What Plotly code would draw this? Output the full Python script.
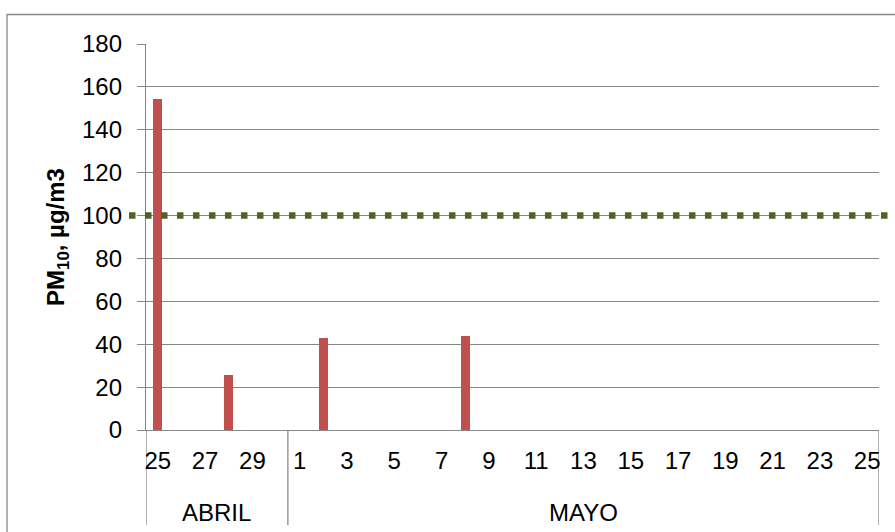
import plotly.graph_objects as go

# Daily PM10 concentrations, 25 April - 25 May
MESES = ["ABRIL"] * 6 + ["MAYO"] * 25
DIAS = [25, 26, 27, 28, 29, 30,
        1, 2, 3, 4, 5, 6, 7, 8, 9, 10, 11, 12, 13, 14, 15, 16, 17, 18, 19,
        20, 21, 22, 23, 24, 25]
PM10 = [154.5, None, None, 25.5, None, None,
        None, 42.8, None, None, None, None, None, 44.0, None, None, None, None, None,
        None, None, None, None, None, None, None, None, None, None, None, None]
LIMITE = 100  # daily limit, ug/m3

FONT = "Liberation Sans, Arial, sans-serif"
GRIS = "#878787"

idx = list(range(len(DIAS)))
tick_idx = idx[::2]
tick_txt = [str(DIAS[i]) for i in tick_idx]

fig = go.Figure()
fig.add_trace(go.Bar(
    x=idx, y=PM10, width=0.38,
    marker=dict(color="#C0504D", line=dict(width=0)),
    showlegend=False,
))

shapes = []
# limit line across the plot, slightly overrunning both sides
shapes.append(dict(type="line", xref="paper", yref="y",
                   x0=-0.0232, x1=1.03, y0=LIMITE, y1=LIMITE,
                   line=dict(color="#4F6228", width=6.5, dash="6.5px,9.5px"),
                   layer="above"))

# month groups: boundaries and labels below the day labels
grupos = []
for i, m in enumerate(MESES):
    if not grupos or grupos[-1][0] != m:
        grupos.append([m, i, i])
    else:
        grupos[-1][2] = i
bordes = sorted({g[1] - 0.5 for g in grupos} | {grupos[-1][2] + 0.5})
for b in bordes:
    shapes.append(dict(type="line", xref="x", yref="paper",
                       x0=b, x1=b, y0=0, y1=-0.246,
                       line=dict(color=GRIS, width=1.3), layer="below"))

annotations = []
for m, a, b in grupos:
    annotations.append(dict(x=(a + b) / 2, y=-0.215, xref="x", yref="paper",
                            text=m, showarrow=False, yanchor="middle",
                            font=dict(family=FONT, size=24, color="#000")))

# chart frame
shapes.append(dict(type="rect", xref="paper", yref="paper",
                   x0=-0.1896, x1=1.05, y0=-0.4, y1=1.0764,
                   line=dict(color=GRIS, width=1.3), layer="below"))

fig.update_layout(
    width=895, height=532,
    margin=dict(l=146, r=16, t=44, b=102, pad=0),
    plot_bgcolor="white", paper_bgcolor="white",
    bargap=0,
    shapes=shapes,
    annotations=annotations,
    font=dict(family=FONT, size=24, color="#000"),
    xaxis=dict(
        range=[-0.5, len(DIAS) - 0.5],
        tickmode="array", tickvals=tick_idx, ticktext=tick_txt,
        showgrid=False, zeroline=False,
        showline=True, linecolor=GRIS, linewidth=1.3,
        ticks="", ticklabelstandoff=9,
        tickfont=dict(family=FONT, size=24, color="#000"),
    ),
    yaxis=dict(
        range=[0, 180], dtick=20, tick0=0,
        showgrid=True, gridcolor=GRIS, gridwidth=1.3,
        zeroline=False,
        showline=True, linecolor=GRIS, linewidth=1.3,
        ticks="outside", ticklen=8, tickcolor=GRIS, tickwidth=1.3,
        ticklabelstandoff=10,
        tickfont=dict(family=FONT, size=24, color="#000"),
        title=dict(text="<b>PM<sub>10</sub>, µg/m3</b>", standoff=10,
                   font=dict(family=FONT, size=24, color="#000")),
    ),
)

fig.write_html("out.html")
